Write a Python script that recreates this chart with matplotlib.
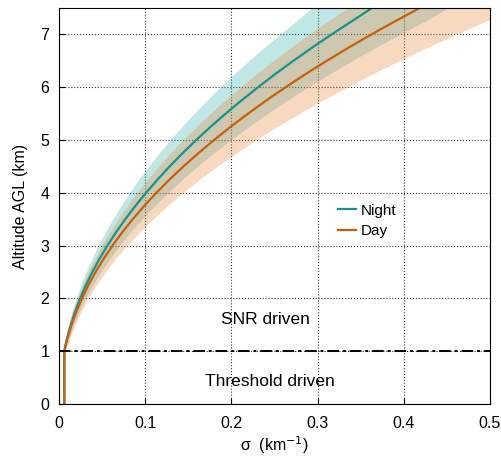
import matplotlib
matplotlib.use('Agg')
from matplotlib import pyplot as plt

plt.rcParams['font.family'] = ['Liberation Sans', 'DejaVu Sans']

# altitude levels (km) and extinction (km^-1)
alt = [0, 1, 1.1, 1.25, 1.5, 1.75, 2, 2.25, 2.5, 2.75, 3, 3.25, 3.5, 3.75,
       4, 4.25, 4.5, 4.75, 5, 5.25, 5.5, 5.75, 6, 6.25, 6.5, 6.75, 7, 7.25,
       7.5]

night = [0.0062, 0.0062, 0.00725, 0.00941, 0.01366, 0.0187, 0.02456, 0.03123,
         0.03872, 0.04703, 0.05617, 0.06613, 0.07692, 0.08855, 0.101, 0.1143,
         0.1284, 0.1434, 0.1592, 0.1759, 0.1934, 0.2118, 0.2310, 0.2510,
         0.2719, 0.2937, 0.3163, 0.3398, 0.3630]
night_lo = [0.0062, 0.0062, 0.00600, 0.00762, 0.01106, 0.01515, 0.01989,
            0.02530, 0.03136, 0.03809, 0.04550, 0.05357, 0.06231, 0.07173,
            0.08181, 0.09258, 0.1040, 0.1162, 0.1290, 0.1425, 0.1567, 0.1716,
            0.1871, 0.2033, 0.2202, 0.2379, 0.2562, 0.2752, 0.2930]
night_hi = [0.0062, 0.0062, 0.00880, 0.01176, 0.01708, 0.02338, 0.03070,
            0.03904, 0.04840, 0.05879, 0.07021, 0.08266, 0.09615, 0.1107,
            0.1263, 0.1429, 0.1605, 0.1793, 0.1990, 0.2199, 0.2418, 0.2648,
            0.2888, 0.3138, 0.3399, 0.3671, 0.3954, 0.4248, 0.4510]

day = [0.0062, 0.0062, 0.00768, 0.01002, 0.01465, 0.02019, 0.02668, 0.03408,
       0.04245, 0.05178, 0.06206, 0.07334, 0.08556, 0.09878, 0.113, 0.1282,
       0.1444, 0.1617, 0.1799, 0.1991, 0.2194, 0.2406, 0.2630, 0.2863,
       0.3107, 0.3360, 0.3625, 0.3900, 0.4186]
day_lo = [0.0062, 0.0062, 0.00620, 0.00802, 0.01172, 0.01615, 0.02134,
          0.02726, 0.03396, 0.04142, 0.04965, 0.05867, 0.06845, 0.07902,
          0.0904, 0.1026, 0.1155, 0.1294, 0.1439, 0.1593, 0.1755, 0.1925,
          0.2104, 0.2290, 0.2486, 0.2688, 0.2900, 0.3120, 0.3349]
day_hi = [0.0062, 0.0062, 0.00950, 0.01273, 0.01861, 0.02564, 0.03388,
          0.04328, 0.05391, 0.06576, 0.07882, 0.09314, 0.1087, 0.1255,
          0.1435, 0.1628, 0.1834, 0.2054, 0.2285, 0.2529, 0.2786, 0.3056,
          0.3340, 0.3636, 0.3946, 0.4267, 0.4604, 0.4953, 0.5316]

x_ticks = [0, 0.1, 0.2, 0.3, 0.4, 0.5]
y_ticks = [0, 1, 2, 3, 4, 5, 6, 7]

fig = plt.figure(figsize=(5.02, 4.58), dpi=100)
ax = fig.add_axes([0.1175, 0.118, 0.8585, 0.8645])

# uncertainty bands
ax.fill_betweenx(alt[1:], night_lo[1:], night_hi[1:], color='#22a6a6',
                 alpha=0.28, linewidth=0)
ax.fill_betweenx(alt[1:], day_lo[1:], day_hi[1:], color='#e8893c',
                 alpha=0.32, linewidth=0)

ax.plot(night, alt, color='#13948f', lw=1.6, label='Night')
ax.plot(day, alt, color='#c8600a', lw=1.6, label='Day')

ax.axhline(1, color='black', lw=1.4, ls='-.', dashes=(6, 2, 1.5, 2))

ax.text(0.24, 1.6, 'SNR driven', ha='center', va='center', fontsize=12.5)
ax.text(0.245, 0.42, 'Threshold driven', ha='center', va='center',
        fontsize=12.5)

ax.set_xlim(0, 0.5)
ax.set_ylim(0, 7.5)
ax.set_xticks(x_ticks)
ax.set_xticklabels(['0', '0.1', '0.2', '0.3', '0.4', '0.5'])
ax.set_yticks(y_ticks)
ax.tick_params(direction='in', length=4, labelsize=11.5)
ax.tick_params(axis='x', pad=9)
ax.tick_params(axis='y', pad=7)
ax.grid(True, color='black', ls=':', lw=0.8, alpha=0.8)
ax.set_axisbelow(True)

ax.set_xlabel(r'σ  (km$^{-1}$)', fontsize=11.5, labelpad=2)
ax.set_ylabel('Altitude AGL (km)', fontsize=11.5, labelpad=9)

ax.legend(loc='center left', bbox_to_anchor=(0.615, 0.462), frameon=False,
          fontsize=11, handlelength=1.2, handletextpad=0.3,
          labelspacing=0.45)

fig.savefig('out.png', dpi=100)
